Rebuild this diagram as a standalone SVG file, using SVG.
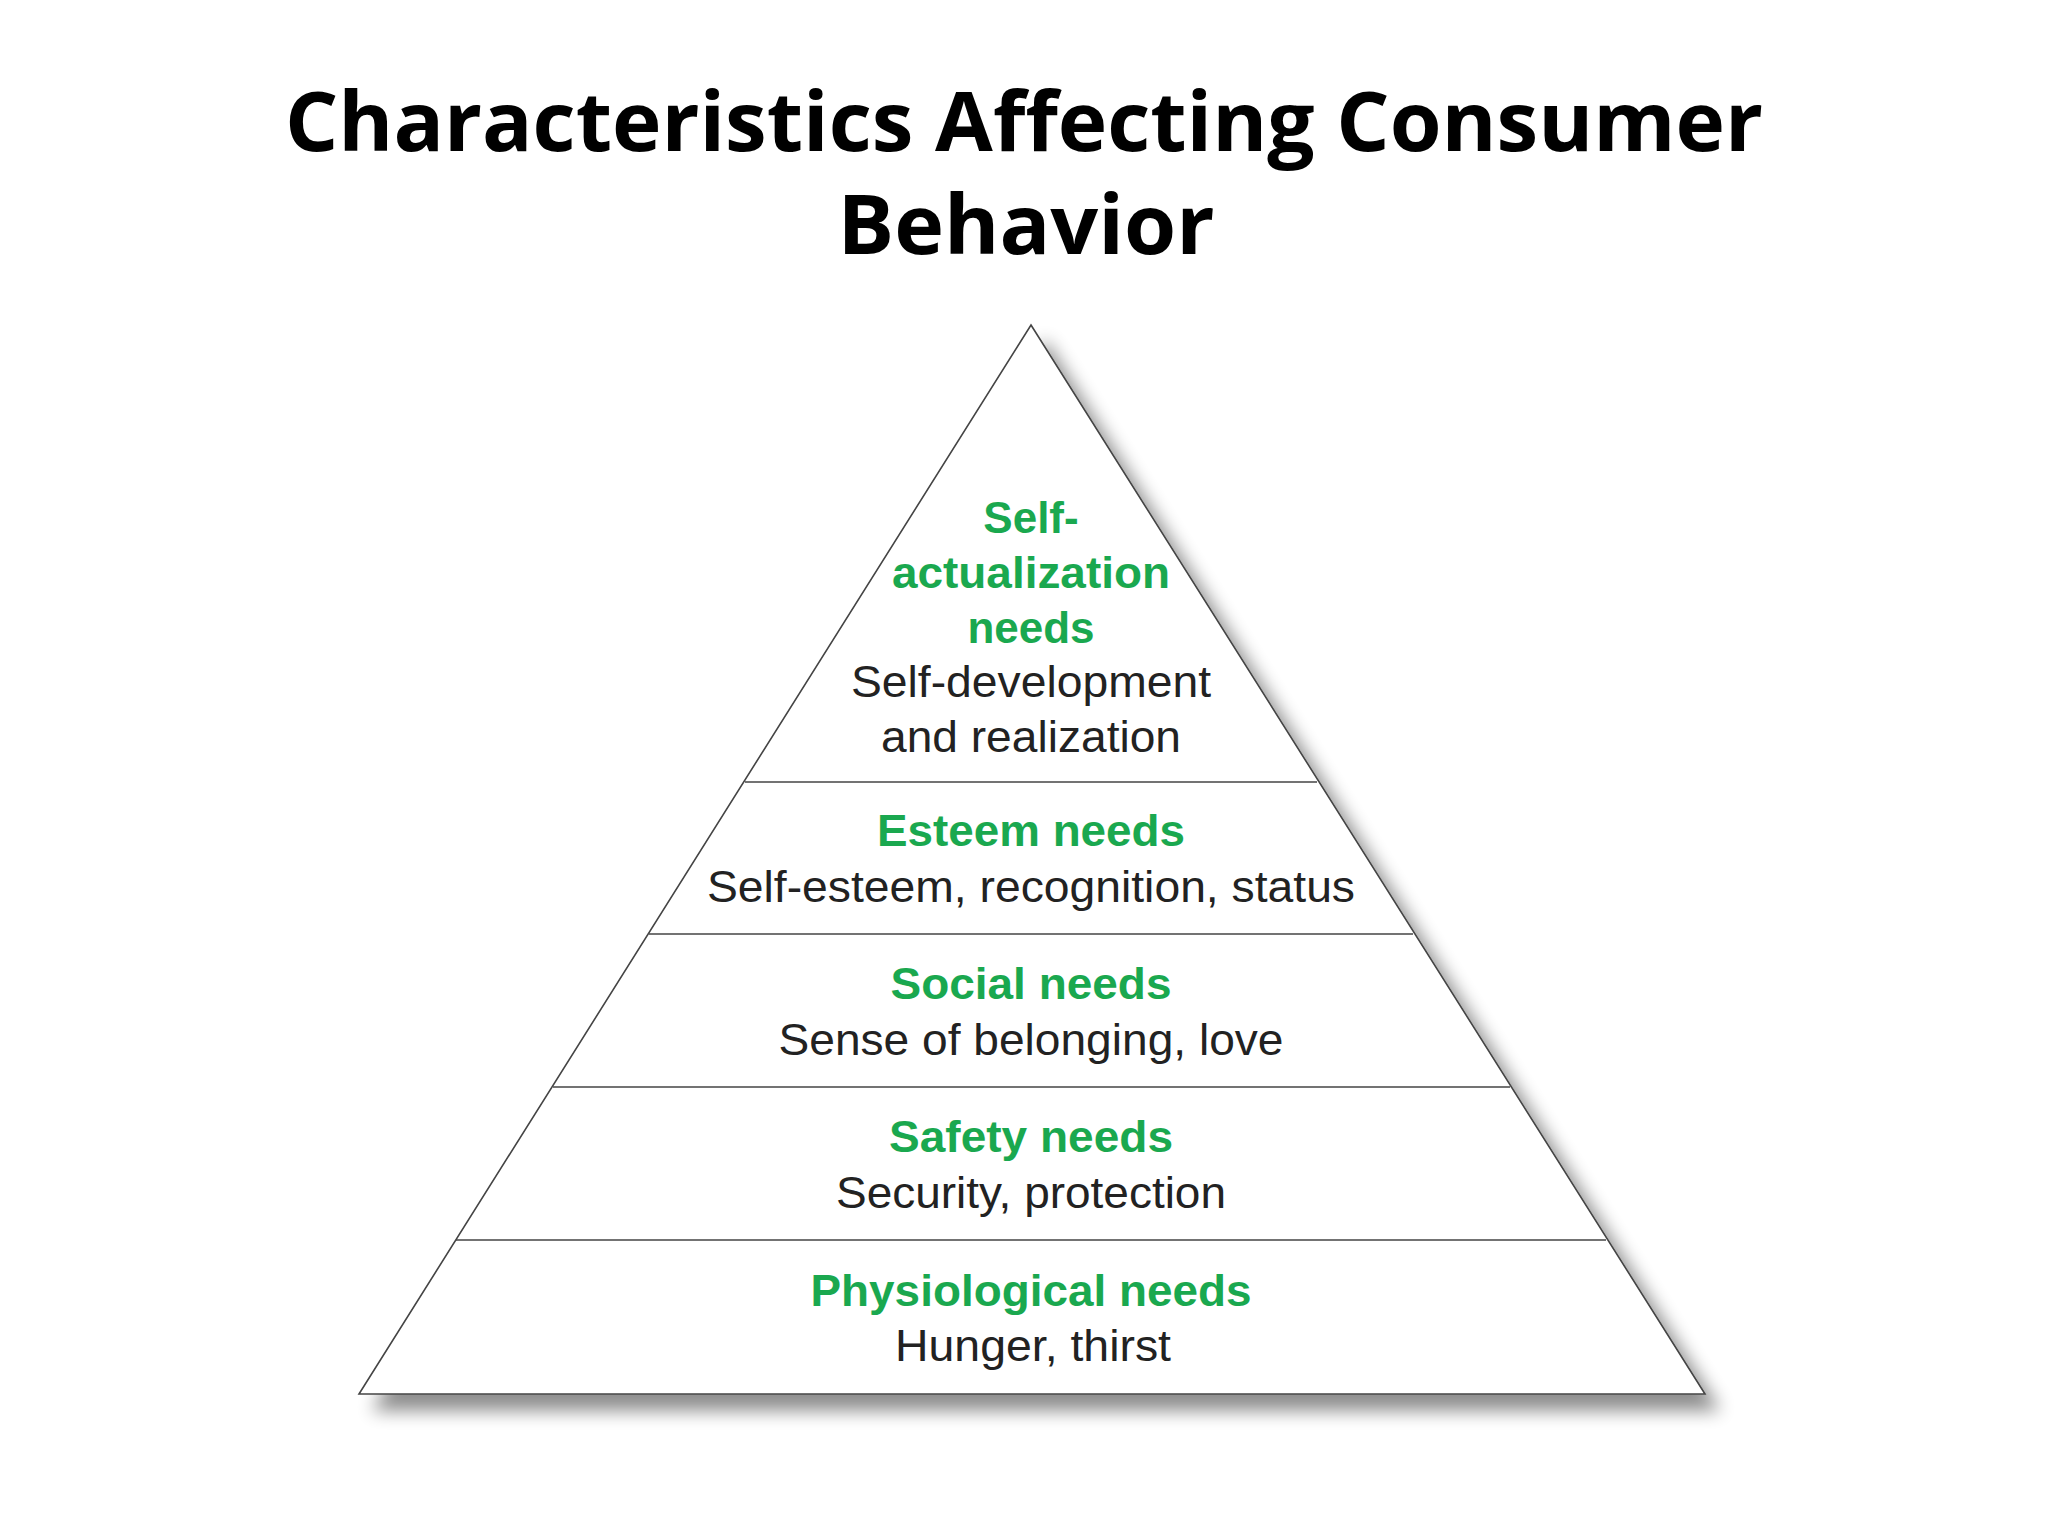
<svg xmlns="http://www.w3.org/2000/svg" width="2048" height="1536" viewBox="0 0 2048 1536">
<defs>
<filter id="sh" x="-10%" y="-10%" width="130%" height="130%">
<feGaussianBlur in="SourceAlpha" stdDeviation="9"/>
<feOffset dx="14" dy="16" result="b"/>
<feComponentTransfer><feFuncA type="linear" slope="0.45"/></feComponentTransfer>
<feMerge><feMergeNode/><feMergeNode in="SourceGraphic"/></feMerge>
</filter>
<style>
.t{font-family:"Open Sans","Liberation Sans",sans-serif;font-weight:bold;font-size:82px;fill:#000;text-anchor:middle}
.g{font-family:"Liberation Sans",Arial,sans-serif;font-weight:bold;font-size:44px;fill:#1aa84f;text-anchor:middle}
.k{font-family:"Liberation Sans",Arial,sans-serif;font-size:44px;fill:#222;text-anchor:middle}
.ln{stroke:#444;stroke-width:1.6;fill:none}
</style>
</defs>
<rect width="2048" height="1536" fill="#fff"/>
<g id="title">
<text class="t" x="1024" y="151" textLength="1478" lengthAdjust="spacingAndGlyphs">Characteristics Affecting Consumer</text>
<text class="t" x="1026" y="254" textLength="377" lengthAdjust="spacingAndGlyphs">Behavior</text>
</g>
<g id="pyramid">
<polygon points="1031,325 1705,1394 359,1394" fill="#fff" stroke="#444" stroke-width="1.6" filter="url(#sh)"/>
</g>
<g id="connectors">
<line class="ln" x1="745" y1="782" x2="1317" y2="782"/>
<line class="ln" x1="649" y1="934" x2="1413" y2="934"/>
<line class="ln" x1="553" y1="1087" x2="1510" y2="1087"/>
<line class="ln" x1="456" y1="1240" x2="1606" y2="1240"/>
</g>
<g id="level5">
<text class="g" x="1031" y="533">Self-</text>
<text class="g" x="1031" y="588" textLength="278" lengthAdjust="spacingAndGlyphs">actualization</text>
<text class="g" x="1031" y="643">needs</text>
<text class="k" x="1031" y="697" textLength="360" lengthAdjust="spacingAndGlyphs">Self-development</text>
<text class="k" x="1031" y="752" textLength="300" lengthAdjust="spacingAndGlyphs">and realization</text>
</g>
<g id="level4">
<text class="g" x="1031" y="846" textLength="308" lengthAdjust="spacingAndGlyphs">Esteem needs</text>
<text class="k" x="1031" y="902" textLength="648" lengthAdjust="spacingAndGlyphs">Self-esteem, recognition, status</text>
</g>
<g id="level3">
<text class="g" x="1031" y="999" textLength="281" lengthAdjust="spacingAndGlyphs">Social needs</text>
<text class="k" x="1031" y="1055" textLength="505" lengthAdjust="spacingAndGlyphs">Sense of belonging, love</text>
</g>
<g id="level2">
<text class="g" x="1031" y="1152" textLength="284" lengthAdjust="spacingAndGlyphs">Safety needs</text>
<text class="k" x="1031" y="1208" textLength="390" lengthAdjust="spacingAndGlyphs">Security, protection</text>
</g>
<g id="level1">
<text class="g" x="1031" y="1306" textLength="441" lengthAdjust="spacingAndGlyphs">Physiological needs</text>
<text class="k" x="1033" y="1361" textLength="276" lengthAdjust="spacingAndGlyphs">Hunger, thirst</text>
</g>
</svg>
